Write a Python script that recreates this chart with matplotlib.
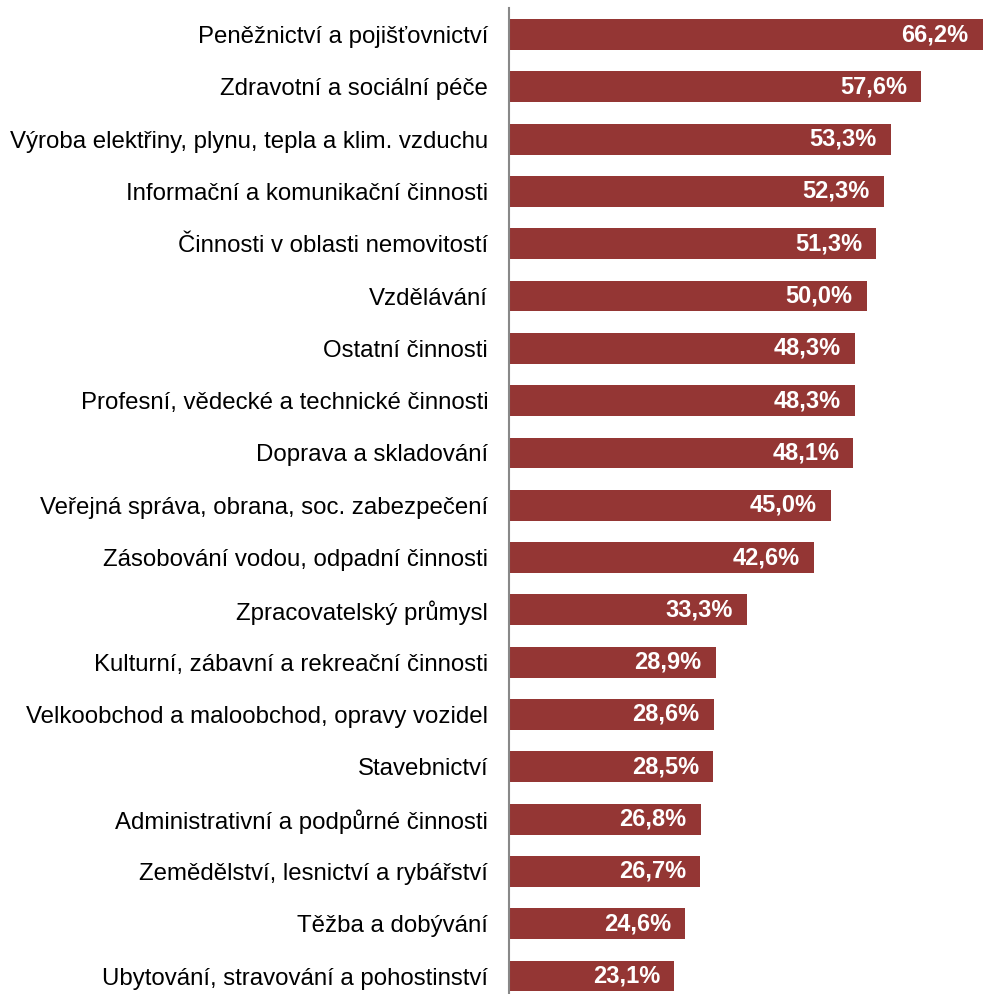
import matplotlib.pyplot as plt

categories = [
    'Peněžnictví a pojišťovnictví',
    'Zdravotní a sociální péče',
    'Výroba elektřiny, plynu, tepla a klim. vzduchu',
    'Informační a komunikační činnosti',
    'Činnosti v oblasti nemovitostí',
    'Vzdělávání',
    'Ostatní činnosti',
    'Profesní, vědecké a technické činnosti',
    'Doprava a skladování',
    'Veřejná správa, obrana, soc. zabezpečení',
    'Zásobování vodou, odpadní činnosti',
    'Zpracovatelský průmysl',
    'Kulturní, zábavní a rekreační činnosti',
    'Velkoobchod a maloobchod, opravy vozidel',
    'Stavebnictví',
    'Administrativní a podpůrné činnosti',
    'Zemědělství, lesnictví a rybářství',
    'Těžba a dobývání',
    'Ubytování, stravování a pohostinství',
]
values = [66.2, 57.6, 53.3, 52.3, 51.3, 50.0, 48.3, 48.3, 48.1, 45.0,
          42.6, 33.3, 28.9, 28.6, 28.5, 26.8, 26.7, 24.6, 23.1]

plt.rcParams['font.family'] = ['Liberation Sans', 'DejaVu Sans']

W, H = 984, 994
fig = plt.figure(figsize=(W / 100, H / 100), dpi=100)
# axes: left edge at x=509, top at y=8, bottom at figure bottom
ax = fig.add_axes([509 / W, 0, (W - 509) / W, (H - 8) / H])

pos = list(range(len(categories)))
ax.barh(pos, values, height=0.59, color='#943634')
ax.set_ylim(18.344, -0.507)
ax.set_xlim(0, 66.33)

for p, v in zip(pos, values):
    ax.text(v - 2.0, p, f'{v:.1f}%'.replace('.', ','), ha='right', va='center',
            color='white', fontsize=17, fontweight='bold')

ax.set_yticks(pos)
ax.set_yticklabels(categories, fontsize=17.3)
ax.tick_params(axis='y', length=0, pad=15)
ax.set_xticks([])
for s in ['top', 'right', 'bottom']:
    ax.spines[s].set_visible(False)
ax.spines['left'].set_color('#888888')
ax.spines['left'].set_linewidth(1.5)

fig.savefig('out.png', dpi=100)
